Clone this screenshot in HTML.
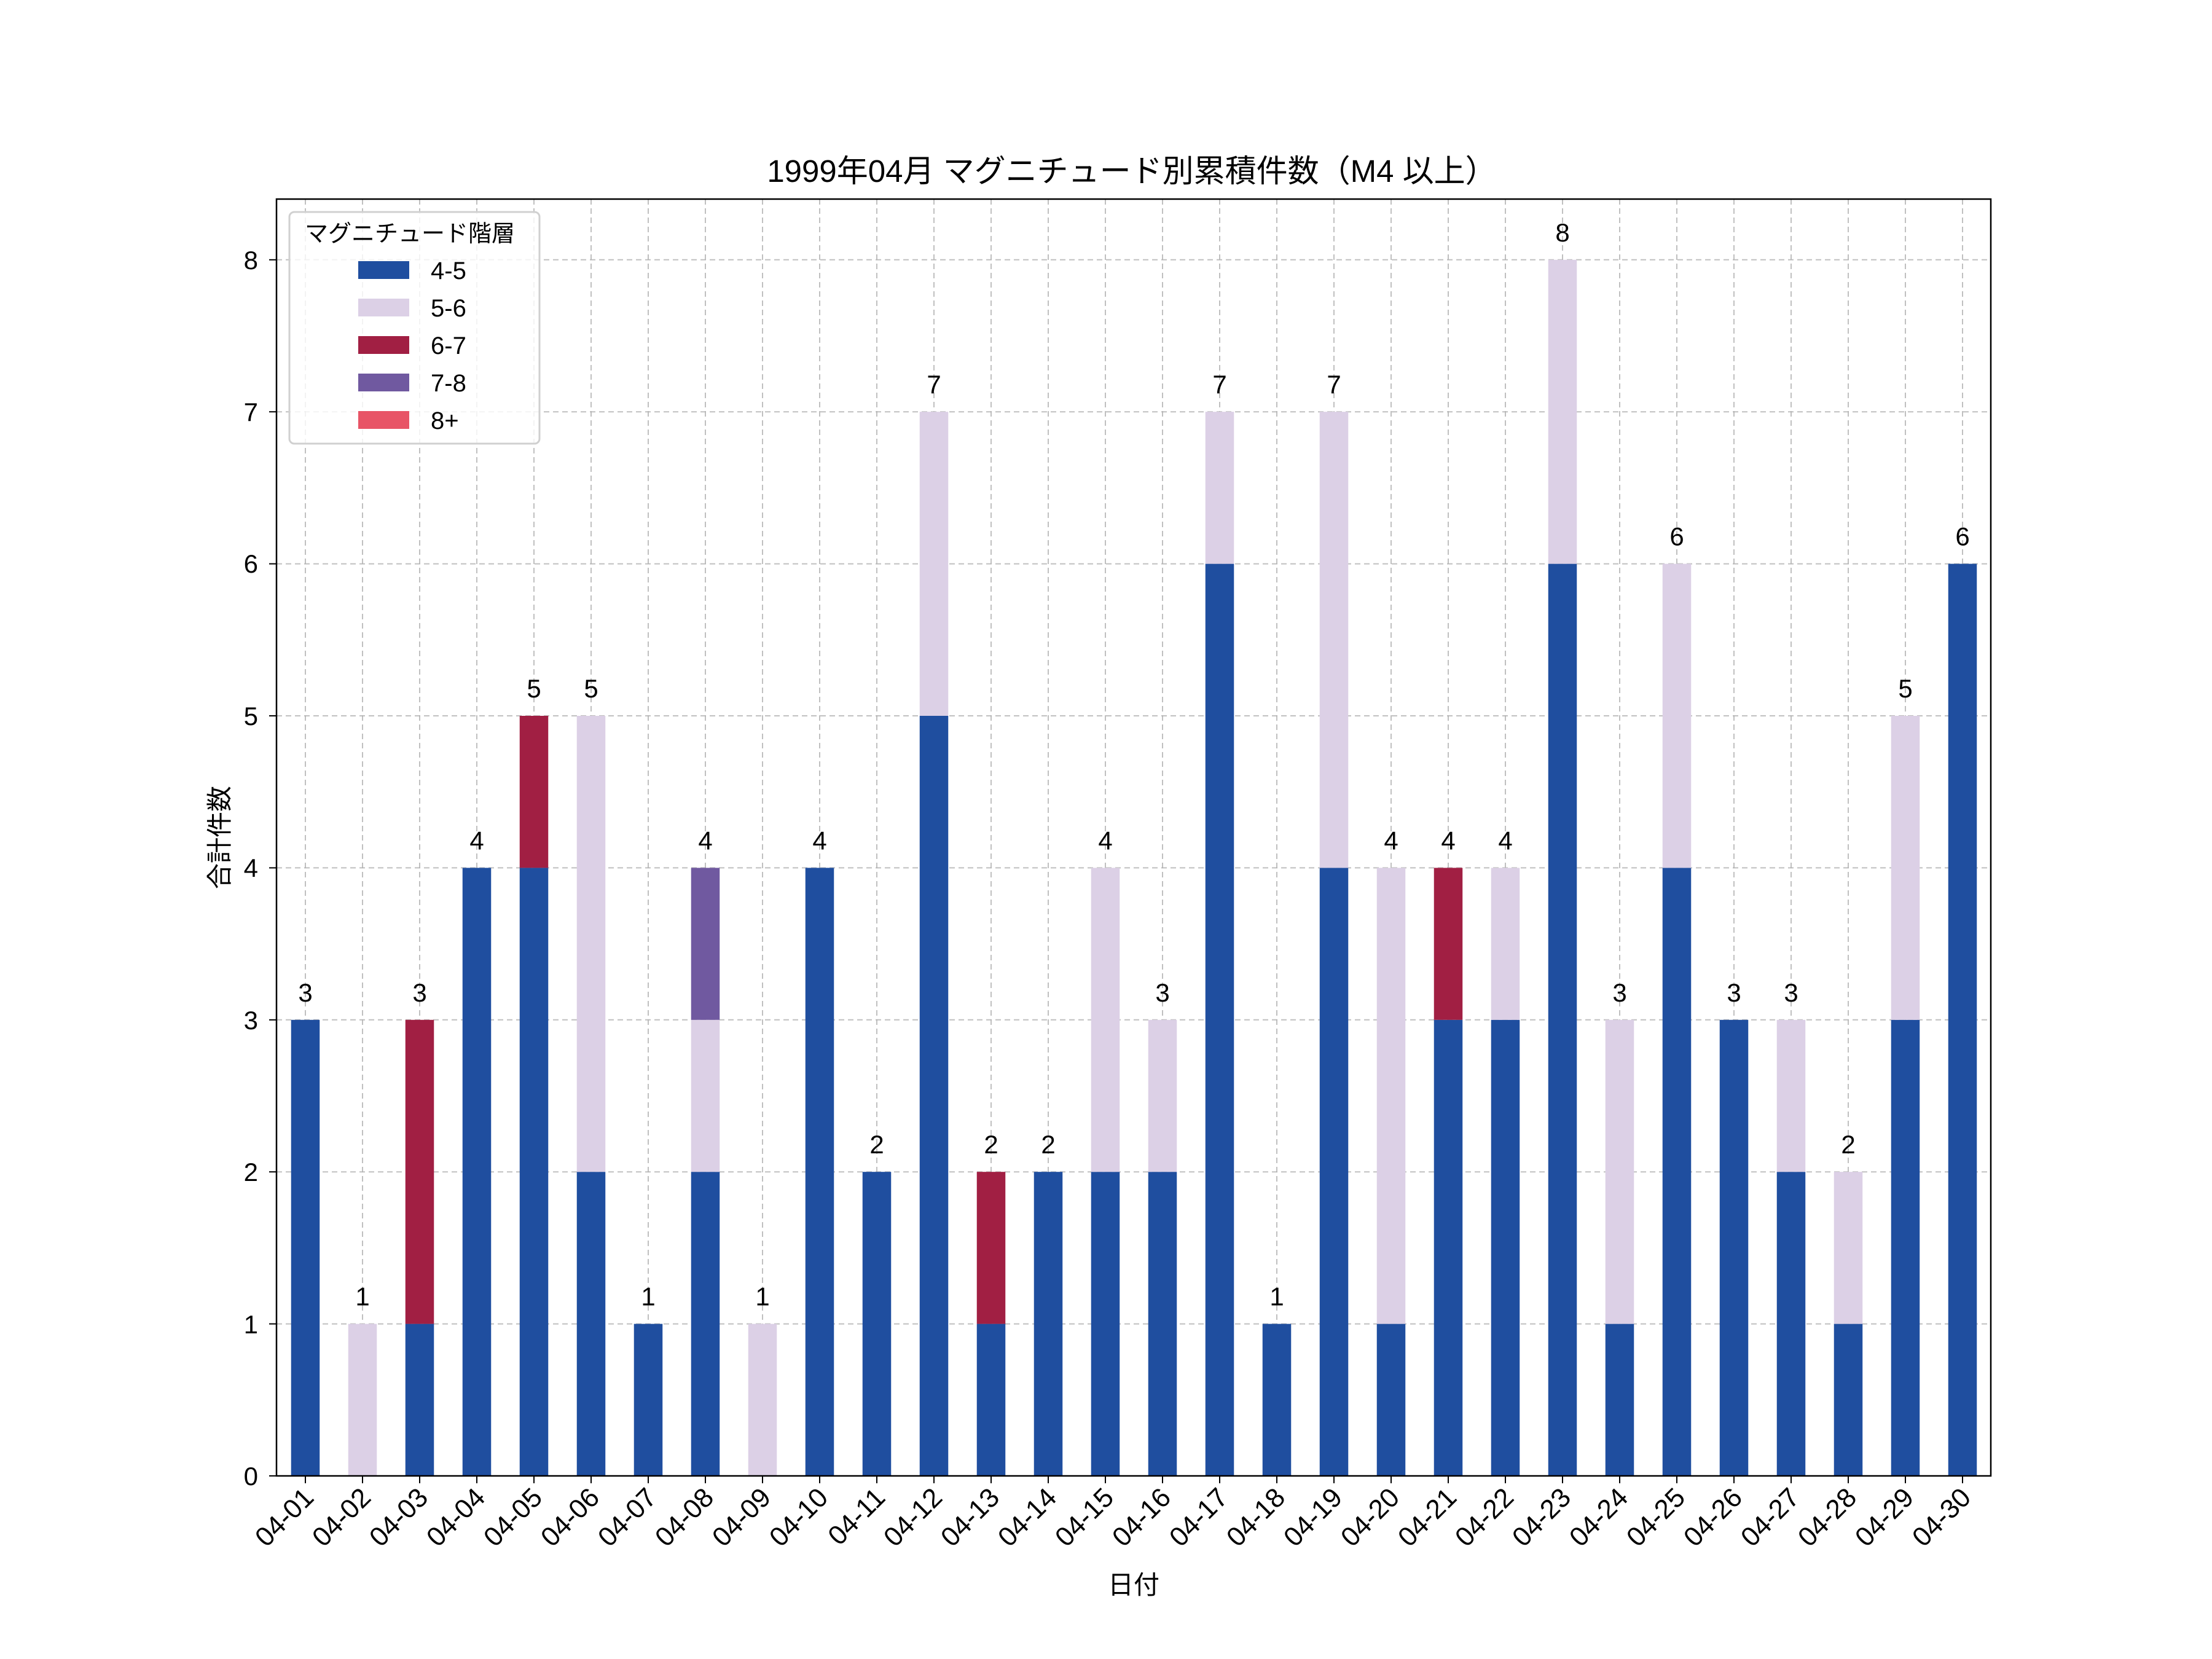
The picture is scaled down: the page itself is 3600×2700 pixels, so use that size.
<!DOCTYPE html>
<html><head><meta charset="utf-8"><style>html,body{margin:0;padding:0;background:#fff}svg{display:block}text{font-family:"Liberation Sans","Noto Sans CJK JP",sans-serif;fill:#000}</style></head>
<body>
<svg id="s" width="3600" height="2700" viewBox="0 0 3600 2700" xmlns="http://www.w3.org/2000/svg">
<g id="grid"></g>
<g id="bars"></g>
<rect x="450" y="324" width="2790" height="2078" fill="none" stroke="#000" stroke-width="2.5"/>
<g font-size="42" text-anchor="end" id="yl">
<text x="420" y="2417">0</text><text x="420" y="2170">1</text><text x="420" y="1922">2</text><text x="420" y="1675">3</text><text x="420" y="1427">4</text><text x="420" y="1180">5</text><text x="420" y="932">6</text><text x="420" y="685">7</text><text x="420" y="438">8</text>
</g>
<g font-size="44" text-anchor="end" id="xl">
<text>04-01</text><text>04-02</text><text>04-03</text><text>04-04</text><text>04-05</text><text>04-06</text><text>04-07</text><text>04-08</text><text>04-09</text><text>04-10</text>
<text>04-11</text><text>04-12</text><text>04-13</text><text>04-14</text><text>04-15</text><text>04-16</text><text>04-17</text><text>04-18</text><text>04-19</text><text>04-20</text>
<text>04-21</text><text>04-22</text><text>04-23</text><text>04-24</text><text>04-25</text><text>04-26</text><text>04-27</text><text>04-28</text><text>04-29</text><text>04-30</text>
</g>
<g font-size="42" text-anchor="middle" id="vl">
<text>3</text><text>1</text><text>3</text><text>4</text><text>5</text><text>5</text><text>1</text><text>4</text><text>1</text><text>4</text>
<text>2</text><text>7</text><text>2</text><text>2</text><text>4</text><text>3</text><text>7</text><text>1</text><text>7</text><text>4</text>
<text>4</text><text>4</text><text>8</text><text>3</text><text>6</text><text>3</text><text>3</text><text>2</text><text>5</text><text>6</text>
</g>
<text x="1842" y="296" font-size="51" text-anchor="middle">1999年04月 マグニチュード別累積件数（M4 以上）</text>
<text x="1845" y="2594" font-size="42" text-anchor="middle">日付</text>
<text transform="translate(372,1363) rotate(-90)" font-size="42" text-anchor="middle">合計件数</text>
<rect x="471" y="345" width="407" height="377" rx="8" fill="#fff" fill-opacity="0.8" stroke="#d0d0d0" stroke-width="3"/>
<text x="496" y="393" font-size="38">マグニチュード階層</text>
<rect x="583" y="425" width="83" height="29" fill="#1f4e9f"/><text x="701" y="454" font-size="40">4-5</text>
<rect x="583" y="486" width="83" height="29" fill="#dcd0e6"/><text x="701" y="515" font-size="40">5-6</text>
<rect x="583" y="547" width="83" height="29" fill="#a11f43"/><text x="701" y="576" font-size="40">6-7</text>
<rect x="583" y="608" width="83" height="29" fill="#7059a0"/><text x="701" y="637" font-size="40">7-8</text>
<rect x="583" y="669" width="83" height="29" fill="#e85466"/><text x="701" y="698" font-size="40">8+</text>
</svg>
<script>
var d=[[3],[0,1],[1,0,2],[4],[4,0,1],[2,3],[1],[2,1,0,1],[0,1],[4],[2],[5,2],[1,0,1],[2],[2,2],[2,1],[6,1],[1],[4,3],[1,3],[3,0,1],[3,1],[6,2],[1,2],[4,2],[3],[2,1],[1,1],[3,2],[6]];
var c=["#1f4e9f","#dcd0e6","#a11f43","#7059a0","#e85466"];
var X0=497,DX=93,Y0=2402,U=247.4,BW=46.5;
var ns="http://www.w3.org/2000/svg",g=document.getElementById("grid"),b=document.getElementById("bars");
var xl=document.getElementById("xl").children,vl=document.getElementById("vl").children;
function el(p,t,a){var e=document.createElementNS(ns,t);for(var k in a)e.setAttribute(k,a[k]);p.appendChild(e);}
for(var i=0;i<30;i++){var x=X0+DX*i;el(g,"line",{x1:x,x2:x,y1:324,y2:Y0,stroke:"#b0b0b0","stroke-width":2,"stroke-dasharray":"9,6","stroke-opacity":0.8});
el(b,"line",{x1:x,x2:x,y1:Y0,y2:Y0+12,stroke:"#000","stroke-width":2});
var y=Y0,t=0;for(var j=0;j<d[i].length;j++){var h=d[i][j]*U;t+=d[i][j];if(h>0){el(b,"rect",{x:x-BW/2,y:y-h,width:BW,height:h,fill:c[j]});y-=h;}}
xl[i].setAttribute("transform","translate("+(x+16)+",2440) rotate(-45)");
vl[i].setAttribute("x",x);vl[i].setAttribute("y",Y0-U*t-30);}
for(var k=0;k<=8;k++){var yy=Y0-U*k;el(g,"line",{x1:450,x2:3240,y1:yy,y2:yy,stroke:"#b0b0b0","stroke-width":2,"stroke-dasharray":"9,6","stroke-opacity":0.8});el(b,"line",{x1:438,x2:450,y1:yy,y2:yy,stroke:"#000","stroke-width":2});}
</script>
</body></html>
